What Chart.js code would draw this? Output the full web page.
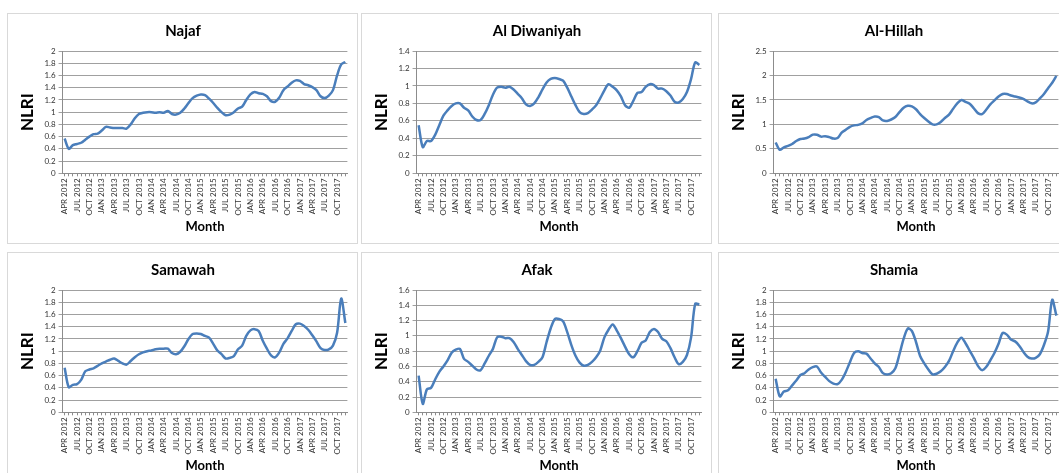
<!DOCTYPE html>
<html>
<head>
<meta charset="utf-8">
<script src="https://cdn.jsdelivr.net/npm/chart.js@4/dist/chart.umd.min.js"></script>
<style>
  html, body { margin: 0; padding: 0; background: #fff; overflow: hidden; }
  body { width: 1059px; height: 473px; position: relative; }
  .panel { position: absolute; width: 349px; height: 229px; border: 1px solid #d9d9d9; background: #fff; }
  .panel canvas { display: block; }
</style>
</head>
<body>
<div class="panel" style="left:7px;top:13px"><canvas id="c0" width="349" height="229"></canvas></div>
<div class="panel" style="left:361px;top:13px"><canvas id="c1" width="349" height="229"></canvas></div>
<div class="panel" style="left:718px;top:13px"><canvas id="c2" width="349" height="229"></canvas></div>
<div class="panel" style="left:7px;top:252px"><canvas id="c3" width="349" height="229"></canvas></div>
<div class="panel" style="left:361px;top:252px"><canvas id="c4" width="349" height="229"></canvas></div>
<div class="panel" style="left:718px;top:252px"><canvas id="c5" width="349" height="229"></canvas></div>
<script>
// Months, APR 2012 to DEC 2017
const months = [
  'APR 2012','MAY 2012','JUN 2012','JUL 2012','AUG 2012','SEP 2012','OCT 2012','NOV 2012','DEC 2012',
  'JAN 2013','FEB 2013','MAR 2013','APR 2013','MAY 2013','JUN 2013','JUL 2013','AUG 2013','SEP 2013','OCT 2013','NOV 2013','DEC 2013',
  'JAN 2014','FEB 2014','MAR 2014','APR 2014','MAY 2014','JUN 2014','JUL 2014','AUG 2014','SEP 2014','OCT 2014','NOV 2014','DEC 2014',
  'JAN 2015','FEB 2015','MAR 2015','APR 2015','MAY 2015','JUN 2015','JUL 2015','AUG 2015','SEP 2015','OCT 2015','NOV 2015','DEC 2015',
  'JAN 2016','FEB 2016','MAR 2016','APR 2016','MAY 2016','JUN 2016','JUL 2016','AUG 2016','SEP 2016','OCT 2016','NOV 2016','DEC 2016',
  'JAN 2017','FEB 2017','MAR 2017','APR 2017','MAY 2017','JUN 2017','JUL 2017','AUG 2017','SEP 2017','OCT 2017','NOV 2017','DEC 2017'
];

const najaf = [0.57,0.40,0.46,0.48,0.50,0.55,0.60,0.64,0.65,0.70,0.76,0.75,0.74,0.74,0.74,0.73,0.80,0.90,0.97,0.99,1.00,1.00,0.99,1.00,0.99,1.02,0.97,0.96,0.99,1.06,1.15,1.23,1.27,1.29,1.28,1.22,1.15,1.07,1.00,0.95,0.96,1.00,1.06,1.09,1.20,1.29,1.33,1.31,1.30,1.26,1.18,1.17,1.24,1.36,1.42,1.48,1.52,1.51,1.46,1.44,1.41,1.36,1.26,1.23,1.27,1.36,1.60,1.78,1.82];
const diwaniyah = [0.55,0.30,0.37,0.37,0.44,0.55,0.66,0.72,0.77,0.80,0.80,0.75,0.72,0.65,0.61,0.61,0.68,0.78,0.90,0.98,0.99,0.98,0.99,0.96,0.91,0.86,0.79,0.77,0.80,0.87,0.96,1.04,1.08,1.09,1.08,1.06,0.98,0.88,0.78,0.70,0.68,0.69,0.73,0.78,0.86,0.95,1.02,0.99,0.95,0.88,0.78,0.75,0.83,0.92,0.93,0.99,1.02,1.01,0.97,0.97,0.94,0.89,0.82,0.81,0.85,0.93,1.08,1.27,1.24];
const hillah = [0.63,0.48,0.53,0.56,0.60,0.66,0.70,0.71,0.74,0.79,0.79,0.75,0.76,0.74,0.71,0.72,0.83,0.89,0.95,0.98,0.99,1.02,1.09,1.13,1.16,1.15,1.08,1.07,1.10,1.15,1.25,1.34,1.38,1.37,1.31,1.21,1.13,1.06,1.00,1.00,1.05,1.13,1.20,1.32,1.43,1.50,1.46,1.42,1.33,1.23,1.21,1.30,1.41,1.49,1.57,1.62,1.62,1.59,1.57,1.55,1.52,1.47,1.43,1.45,1.53,1.62,1.74,1.85,1.99];
const samawah = [0.73,0.41,0.45,0.46,0.53,0.67,0.70,0.72,0.76,0.80,0.83,0.86,0.88,0.84,0.80,0.78,0.84,0.90,0.95,0.98,1.00,1.01,1.03,1.04,1.04,1.04,0.97,0.95,0.99,1.08,1.20,1.28,1.29,1.28,1.25,1.22,1.12,1.01,0.95,0.88,0.89,0.92,1.03,1.09,1.25,1.34,1.36,1.33,1.17,1.04,0.93,0.90,0.98,1.12,1.21,1.33,1.44,1.45,1.41,1.35,1.26,1.16,1.05,1.02,1.03,1.09,1.30,1.86,1.46];
const afak = [0.48,0.11,0.30,0.32,0.43,0.53,0.60,0.68,0.78,0.82,0.83,0.70,0.66,0.61,0.56,0.55,0.64,0.74,0.83,0.98,0.99,0.97,0.97,0.92,0.83,0.75,0.67,0.62,0.62,0.66,0.72,0.92,1.10,1.22,1.22,1.19,1.05,0.88,0.74,0.65,0.61,0.62,0.66,0.72,0.81,0.98,1.08,1.15,1.07,0.97,0.86,0.76,0.72,0.80,0.91,0.94,1.05,1.09,1.05,0.96,0.93,0.84,0.72,0.63,0.66,0.75,0.98,1.42,1.41];
const shamia = [0.55,0.26,0.34,0.36,0.44,0.52,0.61,0.64,0.70,0.74,0.75,0.65,0.58,0.51,0.47,0.46,0.53,0.66,0.82,0.97,1.00,0.97,0.96,0.88,0.80,0.74,0.64,0.62,0.64,0.72,0.95,1.20,1.37,1.33,1.15,0.92,0.80,0.70,0.62,0.63,0.67,0.74,0.84,1.00,1.14,1.22,1.13,1.01,0.89,0.76,0.69,0.74,0.85,0.97,1.12,1.30,1.27,1.19,1.16,1.09,0.99,0.91,0.88,0.89,0.95,1.10,1.32,1.84,1.58];

const titles = ['Najaf', 'Al Diwaniyah', 'Al-Hillah', 'Samawah', 'Afak', 'Shamia'];
const series = [najaf, diwaniyah, hillah, samawah, afak, shamia];
const yMax = [2, 1.4, 2.5, 2, 1.6, 2];
const yStep = [0.2, 0.2, 0.5, 0.2, 0.2, 0.2];

const FONT = "Lato, 'Liberation Sans', sans-serif";
const AXIS = '#8c8c8c';

function makeChart(i) {
  new Chart(document.getElementById('c' + i).getContext('2d'), {
    type: 'line',
    data: {
      labels: months,
      datasets: [{
        data: series[i],
        borderColor: '#4a7ebb',
        borderWidth: 2.5,
        pointRadius: 0,
        tension: 0.3,
        fill: false
      }]
    },
    options: {
      responsive: false,
      animation: false,
      layout: { padding: { left: 9, right: 8, top: 0, bottom: 8 } },
      plugins: {
        legend: { display: false },
        tooltip: { enabled: false },
        title: {
          display: true,
          text: titles[i],
          color: '#000',
          font: { family: FONT, size: 15, weight: 'bold' },
          padding: { top: 8, bottom: 11 }
        }
      },
      scales: {
        x: {
          offset: true,
          grid: { drawOnChartArea: false, drawTicks: true, tickLength: 3, color: AXIS },
          border: { color: AXIS },
          ticks: {
            autoSkip: false,
            minRotation: 90,
            maxRotation: 90,
            padding: 2,
            color: '#333',
            font: { family: FONT, size: 8 },
            callback: function (v, idx) { return idx % 3 === 0 ? months[idx] : ''; }
          },
          title: {
            display: true,
            text: 'Month',
            color: '#000',
            font: { family: FONT, size: 13, weight: 'bold' },
            padding: { top: 2, bottom: 0 }
          }
        },
        y: {
          min: 0,
          max: yMax[i],
          grid: { color: '#a0a0a0', lineWidth: 1, drawTicks: true, tickLength: 4 },
          border: { color: AXIS },
          ticks: {
            stepSize: yStep[i],
            autoSkip: false,
            padding: 3,
            color: '#333',
            font: { family: FONT, size: 8 },
            callback: function (v) { return String(+v.toFixed(2)); }
          },
          title: {
            display: true,
            text: 'NLRI',
            color: '#000',
            font: { family: FONT, size: 17, weight: 'bold' },
            padding: { top: 0, bottom: 4 }
          }
        }
      }
    }
  });
}

for (let i = 0; i < 6; i++) makeChart(i);
</script>
</body>
</html>
